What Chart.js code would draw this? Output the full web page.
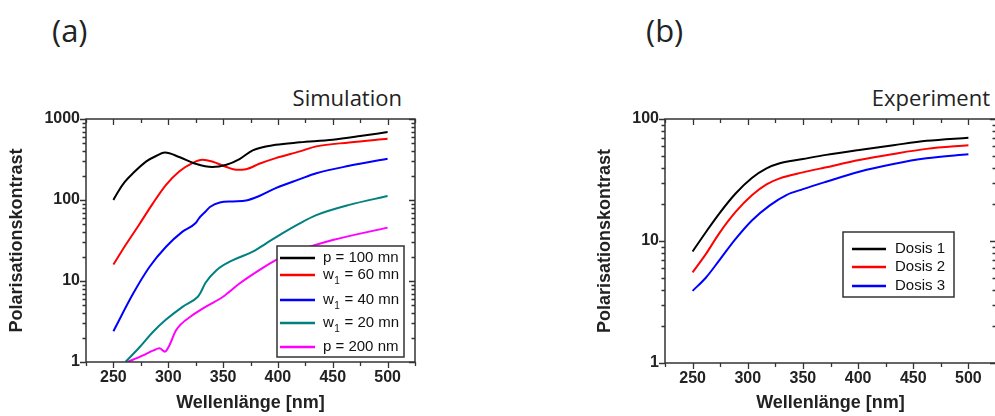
<!DOCTYPE html>
<html>
<head>
<meta charset="utf-8">
<script src="https://cdn.jsdelivr.net/npm/chart.js@4.4.1/dist/chart.umd.min.js"></script>
<style>
html, body { margin: 0; padding: 0; width: 995px; height: 416px; overflow: hidden; background: #fff; }
.wrap { position: relative; width: 995px; height: 416px; overflow: hidden; }
canvas { position: absolute; top: 0; }
#chartA { left: 0; }
#chartB { left: 560px; }
.txt { position: absolute; font-family: "Open Sans", sans-serif; color: #222; white-space: nowrap; line-height: 1; }
</style>
</head>
<body>
<div class="wrap">
  <div class="txt" style="left:52px; top:15px; font-size:31px;">(a)</div>
  <div class="txt" style="left:646px; top:15px; font-size:31px;">(b)</div>
  <div class="txt" style="right:593px; top:86px; font-size:22px;">Simulation</div>
  <div class="txt" style="right:5px; top:86px; font-size:22px;">Experiment</div>
  <canvas id="chartA" width="440" height="416"></canvas>
  <canvas id="chartB" width="440" height="416"></canvas>
</div>
<script>
// ---- data: (a) Simulation ----
const xTickLabels = [250, 300, 350, 400, 450, 500];
const yTicksA = [1, 10, 100, 1000];
const yTicksB = [1, 10, 100];

const simLabels = ['p = 100 mn', 'w_1 = 60 mn', 'w_1 = 40 mn', 'w_1 = 20 mn', 'p = 200 nm'];

const simX_p100 = [250, 254, 260, 268, 280, 289, 297, 310, 325, 340, 353, 365, 377, 398, 420, 450, 475, 500];
const simY_p100 = [100, 125, 165, 215, 300, 350, 385, 340, 280, 255, 272, 320, 410, 480, 515, 555, 615, 690];

const simX_w60 = [250, 262, 274, 286, 298, 310, 322, 331, 340, 353, 362, 371, 383, 398, 420, 435, 465, 500];
const simY_w60 = [16, 29, 51, 91, 154, 225, 285, 313, 299, 255, 236, 240, 280, 329, 398, 459, 513, 570];

const simX_w40 = [250, 268, 283, 298, 313, 325, 328, 334, 338, 347, 359, 371, 383, 398, 420, 435, 465, 500];
const simY_w40 = [2.4, 7.0, 15, 26.5, 40.7, 52, 59.5, 72, 82, 93, 96, 98.4, 112, 140, 181, 214, 264, 323];

const simX_w20 = [261, 274, 286, 298, 313, 327, 329, 334, 344, 359, 377, 389, 404, 420, 435, 465, 500];
const simY_w20 = [1, 1.53, 2.35, 3.34, 4.8, 6.4, 7.0, 9.5, 13.6, 18.1, 23, 29, 38.8, 51.6, 65, 87, 112];

const simX_p200 = [263, 277, 286, 292, 297, 301, 307, 322, 334, 350, 365, 383, 398, 420, 450, 500];
const simY_p200 = [1, 1.21, 1.38, 1.48, 1.34, 1.6, 2.45, 3.77, 4.8, 6.4, 9.3, 13.6, 18.1, 24, 32, 45.6];

// ---- data: (b) Experiment ----
const expLabels = ['Dosis 1', 'Dosis 2', 'Dosis 3'];
const expX_d1 = [250, 262, 274, 289, 304, 317, 329, 350, 371, 401, 432, 462, 500];
const expY_d1 = [8.2, 11.8, 16.7, 24.5, 33, 39.4, 43.4, 47, 50.8, 55.8, 61, 66.2, 70.2];
const expX_d2 = [250, 262, 274, 289, 304, 317, 329, 350, 371, 401, 432, 462, 500];
const expY_d2 = [5.53, 7.8, 11.5, 17.3, 23.8, 29.1, 32.6, 36.5, 40.2, 46.1, 51.7, 56.9, 61];
const expX_d3 = [250, 262, 274, 289, 304, 320, 335, 350, 371, 401, 432, 462, 500];
const expY_d3 = [3.9, 5.0, 6.9, 10.4, 14.8, 19.6, 23.8, 26.6, 30.6, 37, 42.8, 47.6, 51.4];

const colors = ['#000000', '#ff0000', '#0000ff', '#008080', '#ff00ff'];

Chart.defaults.font.family = '"Liberation Sans", Arial, sans-serif';
Chart.defaults.color = '#222';

function zip(xs, ys) {
    return xs.map((x, i) => ({ x: x, y: ys[i] }));
}

function makeSet(label, xs, ys, color) {
    return {
        label: label,
        data: zip(xs, ys),
        borderColor: color,
        backgroundColor: color,
        borderWidth: 2,
        pointRadius: 0,
        cubicInterpolationMode: 'monotone',
        fill: false
    };
}

// frame with ticks on all four sides
const framePlugin = {
    id: 'frame',
    afterDatasetsDraw(chart) {
        const { ctx, chartArea: a, scales: { x, y } } = chart;
        ctx.save();
        ctx.strokeStyle = '#333';
        ctx.lineWidth = 1.5;
        ctx.strokeRect(a.left, a.top, a.right - a.left, a.bottom - a.top);
        ctx.lineWidth = 1.3;
        ctx.beginPath();
        for (let v = x.min; v <= x.max; v += 25) {
            const px = Math.round(x.getPixelForValue(v)) + 0.5;
            const len = xTickLabels.includes(v) ? 6 : 4;
            ctx.moveTo(px, a.bottom); ctx.lineTo(px, a.bottom + len);
            ctx.moveTo(px, a.top); ctx.lineTo(px, a.top + len);
        }
        const d0 = Math.round(Math.log10(y.min)), d1 = Math.round(Math.log10(y.max));
        for (let d = d0; d <= d1; d++) {
            for (let m = 1; m <= 9; m++) {
                const v = m * Math.pow(10, d);
                if (v > y.max * 1.0001) break;
                const py = Math.round(y.getPixelForValue(v)) + 0.5;
                const len = m === 1 ? 6 : 3.5;
                ctx.moveTo(a.left, py); ctx.lineTo(a.left - len, py);
                ctx.moveTo(a.right, py); ctx.lineTo(a.right - len, py);
            }
        }
        ctx.stroke();
        ctx.restore();
    }
};

// boxed legend drawn over the data
const boxLegendPlugin = {
    id: 'boxLegend',
    afterDraw(chart, args, opts) {
        const ctx = chart.ctx;
        ctx.save();
        ctx.fillStyle = '#fff';
        ctx.fillRect(opts.left, opts.top, opts.width, opts.height);
        ctx.strokeStyle = '#333';
        ctx.lineWidth = 1.5;
        ctx.strokeRect(opts.left, opts.top, opts.width, opts.height);
        chart.data.datasets.forEach((ds, i) => {
            const yy = opts.top + opts.rows[i];
            ctx.strokeStyle = ds.borderColor;
            ctx.lineWidth = 2.5;
            ctx.beginPath();
            ctx.moveTo(opts.left + opts.lineX0, yy);
            ctx.lineTo(opts.left + opts.lineX1, yy);
            ctx.stroke();
            ctx.fillStyle = '#111';
            ctx.textBaseline = 'middle';
            ctx.font = '15px "Liberation Sans", Arial, sans-serif';
            let tx = opts.left + opts.textX;
            const parts = ds.label.split('_');
            if (parts.length > 1) {
                ctx.fillText(parts[0], tx, yy);
                tx += ctx.measureText(parts[0]).width;
                ctx.font = '10px "Liberation Sans", Arial, sans-serif';
                ctx.fillText(parts[1][0], tx + 0.5, yy + 6);
                tx += ctx.measureText(parts[1][0]).width + 1;
                ctx.font = '15px "Liberation Sans", Arial, sans-serif';
                ctx.fillText(parts[1].slice(1), tx, yy);
            } else {
                ctx.fillText(ds.label, tx, yy);
            }
        });
        ctx.restore();
    }
};

function makeChart(id, datasets, yMin, yMax, yTicks, yWidth, yTitlePad, padRight, xHeight, legendOpts) {
    return new Chart(document.getElementById(id).getContext('2d'), {
        type: 'line',
        data: { datasets: datasets },
        plugins: [framePlugin, boxLegendPlugin],
        options: {
            responsive: false,
            devicePixelRatio: 1,
            animation: false,
            layout: { padding: { top: 119, right: padRight, bottom: 0, left: 0 } },
            plugins: {
                legend: { display: false },
                tooltip: { enabled: false },
                boxLegend: legendOpts
            },
            scales: {
                x: {
                    type: 'linear',
                    min: 225,
                    max: 525,
                    grid: { display: false, drawTicks: false },
                    border: { display: false },
                    afterBuildTicks: (s) => { s.ticks = xTickLabels.map(v => ({ value: v })); },
                    afterFit: (s) => { s.height = xHeight; },
                    ticks: {
                        padding: 6,
                        maxRotation: 0,
                        font: { size: 16, weight: 'bold' },
                        color: '#222',
                        callback: (v) => String(v)
                    },
                    title: {
                        display: true,
                        text: 'Wellenlänge [nm]',
                        font: { size: 18, weight: 'bold' },
                        color: '#222',
                        padding: { top: 0, bottom: 2 }
                    }
                },
                y: {
                    type: 'logarithmic',
                    min: yMin,
                    max: yMax,
                    grid: { display: false, drawTicks: false },
                    border: { display: false },
                    afterBuildTicks: (s) => { s.ticks = yTicks.map(v => ({ value: v })); },
                    afterFit: (s) => { s.width = yWidth; },
                    ticks: {
                        padding: 6,
                        font: { size: 16, weight: 'bold' },
                        color: '#222',
                        callback: (v) => String(v)
                    },
                    title: {
                        display: true,
                        text: 'Polarisationskontrast',
                        font: { size: 18, weight: 'bold' },
                        color: '#222',
                        padding: { top: yTitlePad, bottom: 0 }
                    }
                }
            }
        }
    });
}

const simSets = [
    makeSet(simLabels[0], simX_p100, simY_p100, colors[0]),
    makeSet(simLabels[1], simX_w60, simY_w60, colors[1]),
    makeSet(simLabels[2], simX_w40, simY_w40, colors[2]),
    makeSet(simLabels[3], simX_w20, simY_w20, colors[3]),
    makeSet(simLabels[4], simX_p200, simY_p200, colors[4])
];

const expSets = [
    makeSet(expLabels[0], expX_d1, expY_d1, colors[0]),
    makeSet(expLabels[1], expX_d2, expY_d2, colors[1]),
    makeSet(expLabels[2], expX_d3, expY_d3, colors[2])
];

makeChart('chartA', simSets, 1, 1000, yTicksA, 86, 6, 25, 54, {
    left: 277, top: 246, width: 127, height: 111,
    rows: [12, 29, 54, 77, 101], lineX0: 3, lineX1: 38, textX: 46
});

makeChart('chartB', expSets, 1, 100, yTicksB, 105, 34, 4, 53, {
    left: 283, top: 232, width: 111, height: 65,
    rows: [17, 35, 54], lineX0: 9, lineX1: 43, textX: 52
});
</script>
</body>
</html>
